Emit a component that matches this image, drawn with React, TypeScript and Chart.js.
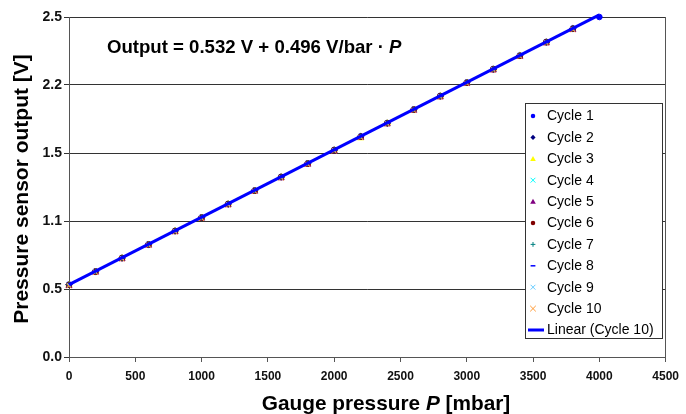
import React, { useEffect, useRef } from 'react';
import { Chart, registerables } from 'chart.js';

Chart.register(...registerables);

// ---------- data ----------
const pressures = [0, 200, 400, 600, 800, 1000, 1200, 1400, 1600, 1800, 2000, 2200, 2400, 2600, 2800, 3000, 3200, 3400, 3600, 3800, 4000];

const cycle1 = [0.533, 0.630, 0.729, 0.829, 0.928, 1.027, 1.126, 1.225, 1.325, 1.424, 1.523, 1.622, 1.721, 1.821, 1.920, 2.019, 2.118, 2.217, 2.317, 2.416, 2.500];
const cycle2 = [0.531, 0.629, 0.728, 0.828, 0.927, 1.026, 1.125, 1.224, 1.324, 1.423, 1.522, 1.621, 1.720, 1.820, 1.919, 2.018, 2.117, 2.216, 2.316, 2.415];
const cycle3 = [0.530, 0.628, 0.727, 0.826, 0.926, 1.025, 1.124, 1.223, 1.322, 1.421, 1.520, 1.610, 1.719, 1.818, 1.917, 2.016, 2.115, 2.214, 2.314, 2.410];
const cycle4 = [0.531, 0.629, 0.729, 0.828, 0.927, 1.026, 1.125, 1.225, 1.324, 1.423, 1.522, 1.621, 1.721, 1.820, 1.919, 2.018, 2.117, 2.217, 2.316, 2.414];
const cycle5 = [0.524, 0.622, 0.721, 0.820, 0.920, 1.019, 1.118, 1.217, 1.316, 1.415, 1.514, 1.613, 1.713, 1.812, 1.911, 2.010, 2.109, 2.208, 2.308, 2.406];
const cycle6 = [0.530, 0.628, 0.727, 0.827, 0.926, 1.025, 1.124, 1.223, 1.323, 1.422, 1.521, 1.620, 1.719, 1.819, 1.918, 2.017, 2.116, 2.215, 2.315, 2.413];
const cycle7 = [0.531, 0.629, 0.728, 0.827, 0.927, 1.026, 1.125, 1.224, 1.323, 1.423, 1.522, 1.621, 1.720, 1.819, 1.919, 2.018, 2.117, 2.216, 2.315, 2.414];
const cycle8 = [0.530, 0.628, 0.728, 0.827, 0.926, 1.025, 1.124, 1.224, 1.323, 1.422, 1.521, 1.620, 1.720, 1.819, 1.918, 2.017, 2.116, 2.216, 2.315, 2.413];
const cycle9 = [0.531, 0.629, 0.728, 0.828, 0.927, 1.026, 1.125, 1.224, 1.324, 1.423, 1.522, 1.621, 1.720, 1.820, 1.919, 2.018, 2.117, 2.216, 2.316, 2.414];
const cycle10 = [0.523, 0.621, 0.721, 0.820, 0.919, 1.018, 1.117, 1.217, 1.316, 1.415, 1.514, 1.613, 1.713, 1.812, 1.911, 2.010, 2.109, 2.209, 2.308, 2.406];

const trendX = [0, 4000];
const trendY = [0.532, 2.516];

const yTickValues = [0, 0.5, 1.0, 1.5, 2.0, 2.5];
const yTickLabels = ['0.0', '0.5', '1.1', '1.5', '2.2', '2.5'];

const cycleNames = ['Cycle 1', 'Cycle 2', 'Cycle 3', 'Cycle 4', 'Cycle 5', 'Cycle 6', 'Cycle 7', 'Cycle 8', 'Cycle 9', 'Cycle 10'];
const trendName = 'Linear (Cycle 10)';

// ---------- styles ----------
const cycleStyles = [
  { color: '#0000FF', style: 'circle', r: 2.8 },
  { color: '#000080', style: 'rectRot', r: 3.2 },
  { color: '#FFFF00', style: 'triangle', r: 3.5 },
  { color: '#00FFFF', style: 'crossRot', r: 3 },
  { color: '#800080', style: 'triangle', r: 3.5 },
  { color: '#800000', style: 'circle', r: 2.8 },
  { color: '#008080', style: 'cross', r: 3 },
  { color: '#0000FF', style: 'dash', r: 3 },
  { color: '#66CCFF', style: 'crossRot', r: 3 },
  { color: '#FF9933', style: 'crossRot', r: 3.5 },
];

const FONT = 'Arial, "Liberation Sans", sans-serif';

function drawMarker(ctx: CanvasRenderingContext2D, style: string, x: number, y: number, r: number, color: string) {
  ctx.save();
  ctx.fillStyle = color;
  ctx.strokeStyle = color;
  ctx.lineWidth = 1;
  ctx.beginPath();
  if (style === 'circle') {
    ctx.arc(x, y, r, 0, Math.PI * 2);
    ctx.fill();
  } else if (style === 'rectRot') {
    ctx.moveTo(x, y - r); ctx.lineTo(x + r, y); ctx.lineTo(x, y + r); ctx.lineTo(x - r, y); ctx.closePath();
    ctx.fill();
  } else if (style === 'triangle') {
    ctx.moveTo(x, y - r); ctx.lineTo(x + r, y + r * 0.8); ctx.lineTo(x - r, y + r * 0.8); ctx.closePath();
    ctx.fill();
  } else if (style === 'crossRot') {
    ctx.moveTo(x - r, y - r); ctx.lineTo(x + r, y + r); ctx.moveTo(x + r, y - r); ctx.lineTo(x - r, y + r);
    ctx.stroke();
  } else if (style === 'cross') {
    ctx.moveTo(x - r, y); ctx.lineTo(x + r, y); ctx.moveTo(x, y - r); ctx.lineTo(x, y + r);
    ctx.stroke();
  } else if (style === 'dash') {
    ctx.lineWidth = 1.5;
    ctx.moveTo(x - r, y); ctx.lineTo(x + r, y);
    ctx.stroke();
  }
  ctx.restore();
}

const borderPlugin = {
  id: 'plotBorder',
  beforeDatasetsDraw(chart: any) {
    const ctx: CanvasRenderingContext2D = chart.ctx;
    const ca = chart.chartArea;
    ctx.save();
    ctx.strokeStyle = '#555555';
    ctx.lineWidth = 1;
    ctx.beginPath();
    ctx.moveTo(Math.round(ca.right) - 0.5, ca.top);
    ctx.lineTo(Math.round(ca.right) - 0.5, ca.bottom);
    ctx.stroke();
    ctx.restore();
  },
};

const decorPlugin = {
  id: 'decor',
  afterDraw(chart: any) {
    const ctx: CanvasRenderingContext2D = chart.ctx;
    ctx.save();

    // equation
    ctx.fillStyle = '#000000';
    ctx.textBaseline = 'middle';
    ctx.textAlign = 'left';
    ctx.font = `bold 18.6px ${FONT}`;
    const eq = 'Output = 0.532 V + 0.496 V/bar \u00B7 ';
    const ex = 107;
    const ey = 48;
    ctx.fillText(eq, ex, ey);
    const w1 = ctx.measureText(eq).width;
    ctx.font = `italic bold 18.6px ${FONT}`;
    ctx.fillText('P', ex + w1, ey);

    // x title
    const fs = 20.8;
    ctx.font = `bold ${fs}px ${FONT}`;
    const t1 = 'Gauge pressure ';
    const t2 = 'P';
    const t3 = ' [mbar]';
    const w_1 = ctx.measureText(t1).width;
    const w_3 = ctx.measureText(t3).width;
    ctx.font = `italic bold ${fs}px ${FONT}`;
    const w_2 = ctx.measureText(t2).width;
    const total = w_1 + w_2 + w_3;
    const xc = 386;
    const xs = xc - total / 2;
    const yt = 404;
    ctx.font = `bold ${fs}px ${FONT}`;
    ctx.fillText(t1, xs, yt);
    ctx.font = `italic bold ${fs}px ${FONT}`;
    ctx.fillText(t2, xs + w_1, yt);
    ctx.font = `bold ${fs}px ${FONT}`;
    ctx.fillText(t3, xs + w_1 + w_2, yt);

    // y title
    ctx.save();
    ctx.translate(22, 189);
    ctx.rotate(-Math.PI / 2);
    ctx.textAlign = 'center';
    ctx.font = `bold 21px ${FONT}`;
    ctx.fillText('Pressure sensor output [V]', 0, 0);
    ctx.restore();

    // legend
    const lx = 525, ly = 103, lw = 137, lh = 235;
    ctx.fillStyle = '#FFFFFF';
    ctx.fillRect(lx, ly, lw, lh);
    ctx.strokeStyle = '#333333';
    ctx.lineWidth = 1;
    ctx.strokeRect(lx + 0.5, ly + 0.5, lw, lh);
    ctx.font = `14px ${FONT}`;
    ctx.textAlign = 'left';
    ctx.textBaseline = 'middle';
    const step = 21.4;
    for (let i = 0; i < cycleNames.length; i++) {
      const yy = 116 + i * step;
      const s = cycleStyles[i];
      drawMarker(ctx, s.style, 533, yy, s.r * 0.8, s.color);
      ctx.fillStyle = '#000000';
      ctx.fillText(cycleNames[i], 547, yy + 0.5);
    }
    const yy = 116 + 10 * step;
    ctx.strokeStyle = '#0000FF';
    ctx.lineWidth = 3;
    ctx.beginPath();
    ctx.moveTo(528, yy);
    ctx.lineTo(544, yy);
    ctx.stroke();
    ctx.fillStyle = '#000000';
    ctx.fillText(trendName, 547, yy + 0.5);
    ctx.restore();
  },
};

export default function App() {
  const ref = useRef<HTMLCanvasElement | null>(null);

  useEffect(() => {
    document.body.style.margin = '0';
    const canvas = ref.current;
    if (!canvas) return;
    const cycles = [cycle1, cycle2, cycle3, cycle4, cycle5, cycle6, cycle7, cycle8, cycle9, cycle10];
    const datasets: any[] = cycles.map((vals, k) => ({
      type: 'scatter',
      label: cycleNames[k],
      data: vals.map((v, i) => ({ x: pressures[i], y: v })),
      pointStyle: cycleStyles[k].style,
      pointRadius: cycleStyles[k].r,
      pointBackgroundColor: cycleStyles[k].color,
      pointBorderColor: cycleStyles[k].color,
      pointBorderWidth: 1,
      showLine: false,
      order: 11 - k,
      clip: false,
    }));
    datasets.push({
      type: 'line',
      label: trendName,
      data: trendX.map((x, i) => ({ x, y: trendY[i] })),
      borderColor: '#0000FF',
      borderWidth: 3,
      pointRadius: 0,
      fill: false,
      order: 0,
      clip: false,
    });

    const chart = new Chart(canvas, {
      type: 'scatter',
      data: { datasets },
      options: {
        animation: false,
        responsive: false,
        maintainAspectRatio: false,
        layout: { padding: { left: 0, right: 13, top: 17, bottom: 0 } },
        plugins: {
          legend: { display: false },
          tooltip: { enabled: false },
        },
        scales: {
          x: {
            type: 'linear',
            min: 0,
            max: 4500,
            afterFit: (s: any) => { s.height = 57; },
            ticks: {
              stepSize: 500,
              color: '#111111',
              font: { family: FONT, size: 12, weight: 'bold' },
              padding: 7,
              callback: (v: any) => String(v),
            },
            grid: { drawOnChartArea: false, drawTicks: true, tickLength: 5, color: '#555555' },
            border: { color: '#555555', width: 1 },
          },
          y: {
            type: 'linear',
            min: 0,
            max: 2.5,
            afterFit: (s: any) => { s.width = 69; },
            afterBuildTicks: (s: any) => { s.ticks = yTickValues.map((v) => ({ value: v })); },
            ticks: {
              color: '#111111',
              font: { family: FONT, size: 14, weight: 'bold' },
              padding: 2,
              callback: (v: any) => {
                const idx = yTickValues.findIndex((t) => Math.abs(t - Number(v)) < 1e-6);
                return idx >= 0 ? yTickLabels[idx] : '';
              },
            },
            grid: { color: '#333333', lineWidth: 1, tickLength: 5 },
            border: { color: '#555555', width: 1 },
          },
        },
      },
      plugins: [borderPlugin, decorPlugin],
    });
    return () => chart.destroy();
  }, []);

  return <canvas ref={ref} width={686} height={414} style={{ display: 'block' }} />;
}
